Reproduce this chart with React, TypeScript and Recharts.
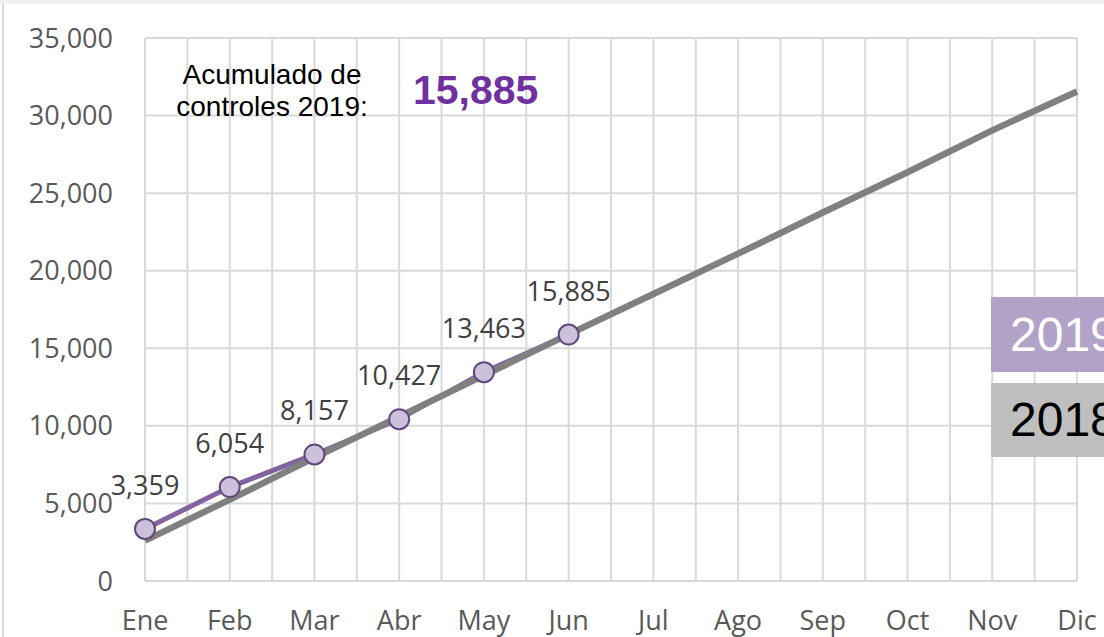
import { LineChart, Line, XAxis, YAxis, CartesianGrid, LabelList } from "recharts";

const MESES = ["Ene", "Feb", "Mar", "Abr", "May", "Jun", "Jul", "Ago", "Sep", "Oct", "Nov", "Dic"];
const ACUM_2019 = [3359, 6054, 8157, 10427, 13463, 15885];
const ACUM_2018 = [2600, 5250, 7950, 10600, 13250, 15900, 18500, 21100, 23750, 26350, 29050, 31550];
const Y_TICKS = [0, 5000, 10000, 15000, 20000, 25000, 30000, 35000];
// half-month positions for the minor vertical grid
const MINOR_TICKS = Array.from({ length: 23 }, (_, i) => i / 2);

const TOTAL_2019 = 15885;

const data = MESES.map((mes, i) => ({
  mes,
  y2019: i < ACUM_2019.length ? ACUM_2019[i] : null,
  y2018: ACUM_2018[i],
}));

const fmt = (v: unknown) => (v == null || v === "" ? "" : Number(v).toLocaleString("en-US"));

const TICK_FONT = "'Open Sans', 'Noto Sans', sans-serif";
const ARIAL = "'Liberation Sans', Arial, sans-serif";

export default function App() {
  return (
    <div style={{ position: "relative", width: 1104, height: 637, overflow: "hidden", background: "#fff" }}>
      <style>{"body{margin:0}"}</style>
      <div style={{ position: "absolute", left: 0, top: 0, width: 1104, height: 4, background: "#f0f0f0" }} />
      <div style={{ position: "absolute", left: 2, top: 4, width: 2, height: 633, background: "#d9d9d9" }} />

      <LineChart width={1104} height={637} data={data} margin={{ top: 38, right: 27, bottom: 0, left: 0 }}>
        <XAxis
          dataKey="mes"
          interval={0}
          height={56}
          axisLine={false}
          tickLine={false}
          tickSize={0}
          tickMargin={30}
          tick={{ fontSize: 27, fill: "#595959", fontFamily: TICK_FONT }}
        />
        <XAxis xAxisId="minor" type="number" domain={[0, 11]} ticks={MINOR_TICKS} hide />
        <YAxis
          width={145}
          domain={[0, 35000]}
          ticks={Y_TICKS}
          axisLine={false}
          tickLine={false}
          tickSize={0}
          tickMargin={32}
          tickFormatter={(v) => fmt(v)}
          tick={{ fontSize: 27, fill: "#595959", fontFamily: TICK_FONT }}
        />
        <CartesianGrid xAxisId="minor" stroke="#d9d9d9" strokeWidth={2} />
        <Line
          dataKey="y2019"
          stroke="#8064a2"
          strokeWidth={5}
          dot={{ r: 10, fill: "#ccc1da", stroke: "#5f4a7b", strokeWidth: 2 }}
          activeDot={false}
          connectNulls={false}
          isAnimationActive={false}
        >
          <LabelList
            dataKey="y2019"
            position="top"
            offset={34}
            formatter={fmt}
            style={{ fontSize: 27, fill: "#404040", fontFamily: TICK_FONT }}
          />
        </Line>
        <Line dataKey="y2018" stroke="#808080" strokeWidth={6.5} dot={false} activeDot={false} isAnimationActive={false} />
      </LineChart>

      <div
        style={{
          position: "absolute",
          left: 148,
          top: 59,
          width: 248,
          textAlign: "center",
          fontFamily: ARIAL,
          fontSize: 28,
          lineHeight: "32px",
          color: "#000",
        }}
      >
        Acumulado de
        <br />
        controles 2019:
      </div>
      <div
        style={{
          position: "absolute",
          left: 413,
          top: 66,
          fontFamily: ARIAL,
          fontWeight: 700,
          fontSize: 41,
          lineHeight: "48px",
          color: "#7030a0",
        }}
      >
        {fmt(TOTAL_2019)}
      </div>

      <div
        style={{
          position: "absolute",
          left: 991,
          top: 297,
          width: 140,
          height: 75,
          background: "#b3a2c7",
          color: "#fff",
          fontFamily: ARIAL,
          fontSize: 48,
          lineHeight: "75px",
          paddingLeft: 19,
          boxSizing: "border-box",
          whiteSpace: "nowrap",
        }}
      >
        2019
      </div>
      <div
        style={{
          position: "absolute",
          left: 991,
          top: 383,
          width: 140,
          height: 74,
          background: "#bfbfbf",
          color: "#000",
          fontFamily: ARIAL,
          fontSize: 48,
          lineHeight: "74px",
          paddingLeft: 19,
          boxSizing: "border-box",
          whiteSpace: "nowrap",
        }}
      >
        2018
      </div>
    </div>
  );
}
